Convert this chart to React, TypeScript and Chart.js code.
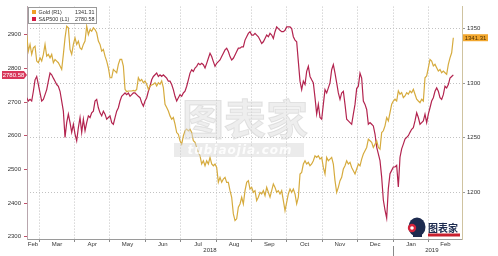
import React, { useEffect, useRef } from 'react';
import { Chart, registerables } from 'chart.js';

Chart.register(...registerables);

// x values are days counted from 2018-01-01 (day 0)
const FIRST_DAY = 48.34;
const DAY_STEP = 1.4405;

const goldR1 = [
  1344.2, 1329.1, 1335.2, 1326.1, 1332.1, 1333.6, 1320.0, 1318.5, 1323.0, 1320.0,
  1326.1, 1335.2, 1324.5, 1326.1, 1323.0, 1326.1, 1318.5, 1321.5, 1320.0, 1318.5,
  1315.5, 1312.4, 1326.1, 1341.2, 1351.8, 1350.3, 1330.6, 1326.1, 1335.2, 1341.2,
  1335.2, 1338.2, 1332.1, 1330.6, 1335.2, 1338.2, 1351.8, 1344.2, 1348.8, 1347.3,
  1350.3, 1348.8, 1345.8, 1338.2, 1335.2, 1329.1, 1330.6, 1324.5, 1320.0, 1313.9,
  1304.8, 1304.8, 1312.4, 1310.9, 1309.4, 1317.0, 1321.5, 1321.5, 1315.5, 1294.2,
  1292.1, 1292.7, 1292.7, 1292.7, 1293.3,
  1292.7, 1294.2, 1304.8, 1301.8, 1303.3, 1300.3, 1301.8, 1298.8, 1294.2, 1297.3,
  1298.2, 1298.8, 1300.3, 1297.3, 1300.3, 1298.8, 1301.8, 1295.8, 1280.6, 1277.6,
  1274.5, 1270.0, 1267.0, 1268.5, 1262.4, 1254.8, 1253.3, 1247.3, 1244.2, 1251.8,
  1256.4, 1257.9, 1256.4, 1257.9, 1254.8, 1247.3, 1245.8, 1241.2, 1236.7, 1233.6,
  1226.1, 1229.1, 1224.5, 1229.1, 1226.1, 1232.1, 1226.1, 1224.5, 1226.1, 1223.0,
  1209.4, 1213.9, 1209.4, 1212.4, 1213.9, 1209.4, 1209.4, 1201.8, 1195.8, 1180.6,
  1174.5, 1176.1, 1186.7, 1189.7, 1195.8, 1189.7,
  1201.8, 1209.4, 1210.9, 1203.3, 1204.8, 1200.3, 1201.8, 1192.7, 1195.8, 1200.3,
  1198.8, 1201.8, 1197.3, 1204.8, 1200.3, 1195.8, 1201.8, 1207.9, 1204.8, 1200.3,
  1201.8, 1198.8, 1201.8, 1192.7, 1183.6, 1191.2, 1198.8, 1203.3, 1200.3, 1203.3,
  1198.8, 1189.7, 1195.8, 1217.0, 1218.5, 1226.1, 1229.1, 1226.1, 1227.6, 1224.5,
  1226.1, 1229.1, 1233.6, 1232.1, 1233.6, 1230.6, 1232.1, 1223.0, 1217.0, 1232.1,
  1229.1, 1230.6, 1232.1, 1226.1, 1210.9, 1200.3, 1204.8, 1210.9, 1213.9, 1221.5,
  1224.5, 1229.1, 1226.1, 1227.6, 1223.0, 1220.0,
  1217.0, 1221.5, 1226.1, 1224.5, 1230.6, 1235.2, 1238.2, 1241.2, 1248.8, 1247.3,
  1245.8, 1241.2, 1244.2, 1247.3, 1241.2, 1239.7, 1254.8, 1256.4, 1260.9, 1268.5,
  1265.5, 1273.0, 1280.6, 1283.6, 1285.2, 1283.6, 1292.7, 1289.7, 1291.2, 1286.7,
  1288.2, 1291.2, 1289.7, 1292.7, 1291.2, 1294.2, 1289.7, 1285.2, 1283.6, 1282.1,
  1285.2, 1283.6, 1304.8, 1306.4, 1313.9, 1321.5, 1320.0, 1315.5, 1317.0, 1313.9,
  1310.9, 1312.4, 1309.4, 1310.9, 1309.4, 1307.9, 1317.0, 1323.0, 1327.6, 1341.31,
];

const spx500L1 = [
  2713, 2703, 2708, 2703, 2732, 2766, 2776, 2752, 2727, 2703,
  2708, 2722, 2737, 2762, 2786, 2781, 2771, 2762, 2752, 2747,
  2732, 2703, 2673, 2595, 2639, 2664, 2639, 2610, 2634, 2605,
  2585, 2624, 2654, 2610, 2649, 2615, 2639, 2659, 2654, 2668,
  2673, 2703, 2708, 2683, 2668, 2659, 2673, 2664, 2649, 2654,
  2659, 2639, 2634, 2654, 2673, 2683, 2703, 2717, 2722, 2727,
  2722, 2727, 2717, 2722, 2727,
  2727, 2722, 2717, 2713, 2698, 2688, 2703, 2713, 2732, 2747,
  2766, 2776, 2781, 2786, 2776, 2781, 2776, 2781, 2776, 2771,
  2762, 2762, 2752, 2737, 2717, 2703, 2713, 2722, 2717, 2727,
  2732, 2747, 2766, 2786, 2796, 2791, 2801, 2806, 2815, 2811,
  2815, 2811, 2801, 2815, 2830, 2845, 2835, 2820, 2806, 2815,
  2820, 2825, 2835, 2845, 2855, 2860, 2850, 2835, 2825, 2830,
  2840, 2850, 2860, 2860, 2864, 2864,
  2884, 2894, 2904, 2909, 2899, 2899, 2904, 2899, 2894, 2884,
  2874, 2879, 2889, 2899, 2894, 2904, 2899, 2889, 2909, 2923,
  2918, 2913, 2909, 2909, 2913, 2923, 2923, 2923, 2918, 2894,
  2884, 2879, 2820, 2762, 2737, 2762, 2752, 2791, 2806, 2776,
  2766, 2757, 2713, 2664, 2693, 2654, 2649, 2693, 2737, 2727,
  2742, 2757, 2796, 2811, 2786, 2757, 2727, 2708, 2727, 2732,
  2693, 2649, 2644, 2639, 2634, 2664,
  2693, 2740, 2747, 2786, 2771, 2703, 2693, 2678, 2634, 2639,
  2634, 2629, 2605, 2566, 2546, 2526, 2477, 2409, 2379, 2355,
  2443, 2487, 2497, 2507, 2507, 2512, 2448, 2536, 2561, 2575,
  2590, 2595, 2600, 2610, 2619, 2624, 2644, 2668, 2654, 2634,
  2639, 2644, 2664, 2639, 2664, 2683, 2703, 2713, 2732, 2742,
  2732, 2713, 2708, 2722, 2747, 2742, 2752, 2771, 2776, 2780.58,
];

const monthStartDays = [59, 90, 120, 151, 181, 212, 243, 273, 304, 334, 365, 396];
const monthLabelDays = [53.8, 74.5, 105, 135.5, 166, 196.5, 227.5, 258, 288.5, 319, 349.5, 380.5, 410.3];
const monthLabels = ['Feb', 'Mar', 'Apr', 'May', 'Jun', 'Jul', 'Aug', 'Sep', 'Oct', 'Nov', 'Dec', 'Jan', 'Feb'];
const yearLabelDays = [206.8, 398.5];
const yearLabels = ['2018', '2019'];
const yearStartDay = 365;
const leftTicks = [2300, 2400, 2500, 2600, 2700, 2800, 2900];
const rightTicks = [1200, 1250, 1300, 1350];

const seriesNames = ['Gold (R1)', 'S&P500 (L1)'];
const GOLD = '#d6ab3e';
const SPX = '#b3244f';

type XTick = { value: number; label: string | string[]; grid: boolean };
const xTickDefs: XTick[] = [
  ...monthStartDays.map((d) => ({ value: d, label: '', grid: true })),
  ...monthLabelDays.map((d, i) => ({ value: d, label: monthLabels[i], grid: false })),
  ...yearLabelDays.map((d, i) => ({ value: d, label: ['', yearLabels[i]], grid: false })),
].sort((a, b) => a.value - b.value);

const overlayPlugin = {
  id: 'overlay',
  afterDraw(chart: any) {
    const ctx: CanvasRenderingContext2D = chart.ctx;
    const xs = chart.scales.x;
    const yl = chart.scales.y;
    const yr = chart.scales.y1;
    ctx.save();

    // watermark
    ctx.textAlign = 'center';
    ctx.textBaseline = 'middle';
    ctx.font = 'bold 42px "Noto Sans CJK SC"';
    ctx.fillStyle = 'rgba(222,222,222,0.5)';
    ctx.fillText('图表家', 245, 119);
    ctx.strokeStyle = 'rgba(185,185,185,0.35)';
    ctx.lineWidth = 1;
    ctx.strokeText('图表家', 245, 119);
    ctx.fillStyle = 'rgba(210,210,210,0.45)';
    ctx.fillRect(174, 143, 130, 14);
    ctx.font = 'italic bold 12px "DejaVu Sans"';
    (ctx as any).letterSpacing = '1px';
    ctx.fillStyle = 'rgba(255,255,255,0.9)';
    ctx.fillText('tubiaojia.com', 240, 150.5);
    (ctx as any).letterSpacing = '0px';

    // logo bottom right
    ctx.fillStyle = '#1d2b4f';
    ctx.beginPath();
    ctx.ellipse(417, 227, 8.5, 9.5, 0, 0, Math.PI * 2);
    ctx.fill();
    ctx.fillRect(413, 232, 9, 5);
    ctx.fillStyle = '#d3223a';
    ctx.beginPath();
    ctx.arc(412, 228, 4.2, 0, Math.PI * 2);
    ctx.fill();
    ctx.fillStyle = '#ffffff';
    ctx.beginPath();
    ctx.arc(412, 228, 1.8, 0, Math.PI * 2);
    ctx.fill();
    ctx.textAlign = 'left';
    ctx.textBaseline = 'alphabetic';
    ctx.font = 'bold 10px "Noto Sans CJK SC"';
    ctx.fillStyle = '#1d2b4f';
    ctx.fillText('图表家', 428, 232);
    ctx.fillStyle = '#c8202f';
    ctx.fillRect(428, 233.5, 32, 3);

    // year divider below the axis
    const xd = Math.round(xs.getPixelForValue(yearStartDay)) + 0.5;
    ctx.strokeStyle = '#8a8a8a';
    ctx.lineWidth = 1;
    ctx.beginPath();
    ctx.moveTo(xd, 246);
    ctx.lineTo(xd, 256);
    ctx.stroke();

    // last value labels
    const lastGold = goldR1[goldR1.length - 1];
    const lastSpx = spx500L1[spx500L1.length - 1];
    ctx.font = '6px "Liberation Sans"';
    ctx.textBaseline = 'middle';
    ctx.textAlign = 'center';
    const ly = yl.getPixelForValue(lastSpx);
    ctx.fillStyle = '#d8375a';
    ctx.beginPath();
    ctx.moveTo(2, ly - 4);
    ctx.lineTo(24, ly - 4);
    ctx.lineTo(27, ly);
    ctx.lineTo(24, ly + 4);
    ctx.lineTo(2, ly + 4);
    ctx.closePath();
    ctx.fill();
    ctx.fillStyle = '#ffffff';
    ctx.fillText(lastSpx.toFixed(2), 13.5, ly + 0.3);
    const ry = yr.getPixelForValue(lastGold);
    ctx.fillStyle = '#f2a72e';
    ctx.fillRect(463, ry - 3.5, 25, 7);
    ctx.fillStyle = '#4a2e00';
    ctx.fillText(lastGold.toFixed(2), 475.5, ry + 0.3);

    // legend box
    ctx.fillStyle = '#ffffff';
    ctx.fillRect(28, 7, 69, 17);
    ctx.strokeStyle = '#9a9a9a';
    ctx.strokeRect(28.5, 7.5, 68, 16);
    ctx.fillStyle = '#f0a028';
    ctx.fillRect(32, 10, 4, 4);
    ctx.fillStyle = '#d41c44';
    ctx.fillRect(32, 17, 4, 4);
    ctx.fillStyle = '#333333';
    ctx.font = '5.4px "Liberation Sans"';
    ctx.textAlign = 'left';
    ctx.fillText(seriesNames[0], 38.5, 12.3);
    ctx.fillText(seriesNames[1], 38.5, 19.3);
    ctx.textAlign = 'right';
    ctx.fillText(lastGold.toFixed(2), 94.5, 12.3);
    ctx.fillText(lastSpx.toFixed(2), 94.5, 19.3);

    ctx.restore();
  },
};

export default function App() {
  const ref = useRef<HTMLCanvasElement | null>(null);

  useEffect(() => {
    if (!ref.current) return;
    Chart.defaults.font.family = '"Liberation Sans", Arial, sans-serif';
    const chart = new Chart(ref.current, {
      type: 'line',
      data: {
        datasets: [
          {
            label: seriesNames[0],
            data: goldR1.map((v, i) => ({ x: FIRST_DAY + i * DAY_STEP, y: v })),
            yAxisID: 'y1',
            borderColor: GOLD,
            borderWidth: 1.2,
            pointRadius: 0,
            tension: 0,
          },
          {
            label: seriesNames[1],
            data: spx500L1.map((v, i) => ({ x: FIRST_DAY + i * DAY_STEP, y: v })),
            yAxisID: 'y',
            borderColor: SPX,
            borderWidth: 1.2,
            pointRadius: 0,
            tension: 0,
          },
        ],
      },
      options: {
        responsive: false,
        animation: false,
        devicePixelRatio: 1,
        layout: { padding: { top: 5, left: 0, right: 0, bottom: 0 } },
        plugins: { legend: { display: false }, tooltip: { enabled: false } },
        scales: {
          x: {
            type: 'linear',
            min: 48.6,
            max: 424.6,
            afterBuildTicks: (s: any) => {
              s.ticks = xTickDefs.map((t) => ({ value: t.value }));
            },
            afterFit: (s: any) => {
              s.height = 17;
            },
            grid: {
              color: (c: any) => (xTickDefs[c.index] && xTickDefs[c.index].grid ? '#c2c2c2' : 'rgba(0,0,0,0)'),
              tickColor: (c: any) => (xTickDefs[c.index] && xTickDefs[c.index].grid ? '#8a8a8a' : 'rgba(0,0,0,0)'),
              tickLength: 3,
              lineWidth: 1,
            },
            border: { display: true, color: '#9a9a9a', dash: [1, 2] },
            ticks: {
              autoSkip: false,
              maxRotation: 0,
              padding: -1,
              color: '#333333',
              font: { size: 6, lineHeight: 1 },
              callback: (_v: any, i: number) => (xTickDefs[i] ? xTickDefs[i].label : ''),
            },
          },
          y: {
            position: 'left',
            min: 2293.2,
            max: 2983.5,
            afterBuildTicks: (s: any) => {
              s.ticks = leftTicks.map((v) => ({ value: v }));
            },
            afterFit: (s: any) => {
              s.width = 27;
            },
            grid: { drawOnChartArea: false, drawTicks: true, tickLength: 3, tickColor: '#c0506a' },
            border: { display: true, color: '#b8a6ad' },
            ticks: {
              padding: 3,
              color: '#333333',
              font: { size: 6 },
              callback: (v: any) => String(v),
            },
          },
          y1: {
            position: 'right',
            min: 1157.7,
            max: 1369.7,
            afterBuildTicks: (s: any) => {
              s.ticks = rightTicks.map((v) => ({ value: v }));
            },
            afterFit: (s: any) => {
              s.width = 36;
            },
            grid: { drawOnChartArea: true, color: '#c2c2c2', tickColor: '#9a9a9a', tickLength: 3 },
            border: { display: true, color: '#cfc3a0', dash: [1, 2] },
            ticks: {
              padding: 2,
              color: '#333333',
              font: { size: 6 },
              callback: (v: any) => String(v),
            },
          },
        },
      } as any,
      plugins: [overlayPlugin],
    });
    return () => chart.destroy();
  }, []);

  return (
    <div style={{ position: 'fixed', left: 0, top: 0, width: 498, height: 256, background: '#ffffff' }}>
      <canvas ref={ref} width={498} height={256} style={{ display: 'block', width: 498, height: 256 }} />
    </div>
  );
}
